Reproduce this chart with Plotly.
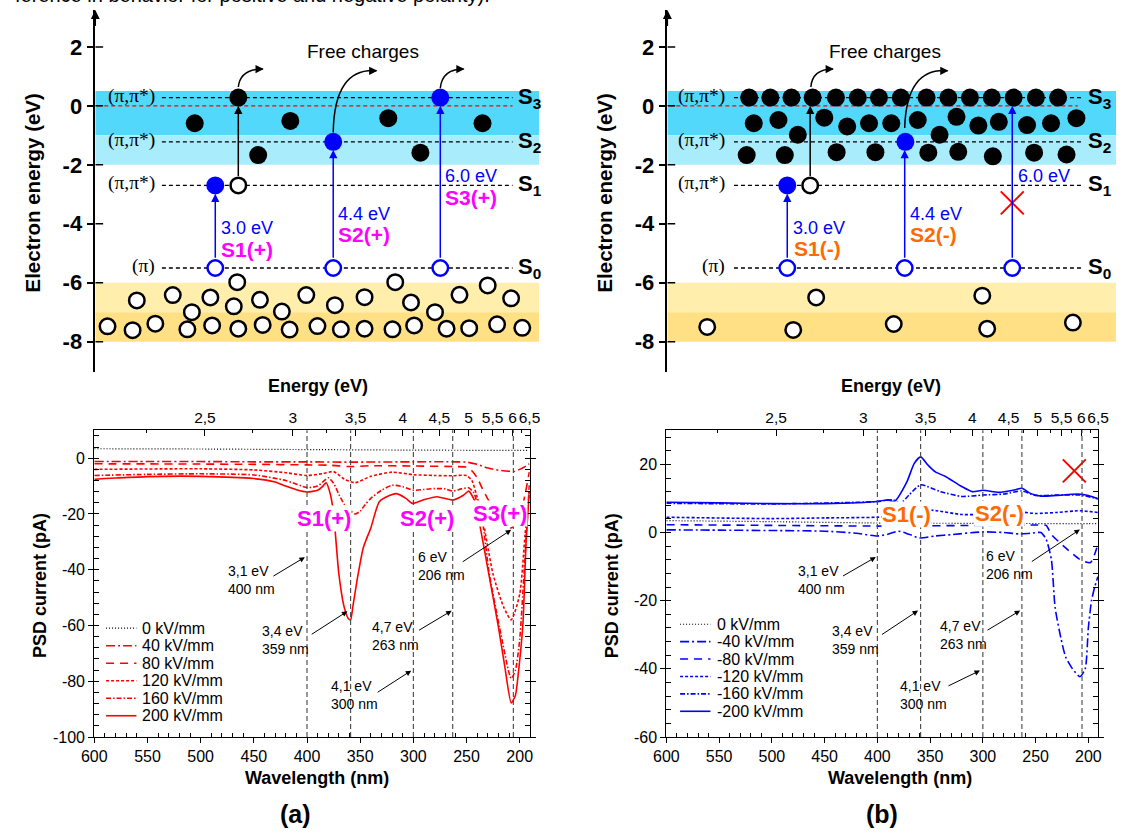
import plotly.graph_objects as go

W, H = 1126, 839
FONT = "Liberation Sans, Arial, sans-serif"
SERIF = "Liberation Serif, Times New Roman, serif"

# ---------------- bottom panels: data ----------------
# (a) positive polarity
p0_x = [600, 500, 400, 300, 200, 191]
p0_y = [3.4, 3.3, 3.1, 2.9, 2.8, 2.8]
p40_x = [600, 550, 500, 450, 400, 360, 300, 260, 250, 240, 230, 220, 210, 206, 200, 195, 191]
p40_y = [-1.2, -1.2, -1.2, -1.3, -1.3, -1.4, -1.3, -1.3, -1.4, -2.2, -3.5, -4.3, -4.7, -4.8, -4.0, -3.0, -2.0]
p80_x = [600, 500, 450, 400, 380, 360, 340, 300, 260, 250, 245, 240, 235, 225, 215, 208, 200, 195, 191]
p80_y = [-2.0, -2.1, -2.2, -2.4, -2.5, -3.0, -2.7, -2.8, -3.0, -3.2, -4.5, -7, -11, -18, -23, -25, -21, -13, -5]
p120_x = [600, 500, 450, 420, 400, 385, 375, 365, 355, 340, 320, 300, 280, 263, 250, 245, 240, 235, 225, 215, 208, 200, 195, 191]
p120_y = [-4.0, -3.8, -4.2, -5.2, -6.2, -5.5, -4.8, -7.5, -8.8, -6.5, -5.0, -5.9, -6.2, -6.3, -6.2, -8, -14, -21.5, -41.7, -53.5, -58, -48.8, -27.5, -12]
p160_x = [600, 550, 500, 450, 420, 400, 390, 380, 375, 370, 365, 360, 355, 350, 345, 340, 330, 320, 310, 300, 290, 280, 270, 263, 255, 248, 243, 240, 235, 229, 219, 208, 204, 200, 196, 191]
p160_y = [-6.2, -5.8, -5.6, -6.0, -8.0, -10.5, -10.0, -7.0, -9.0, -13, -16.5, -18.5, -20, -19, -16.5, -14.4, -11.5, -9.7, -10.2, -11.5, -11.2, -10.9, -11.0, -11.8, -11.0, -10.6, -12.5, -16, -22.7, -40.5, -60.6, -79, -76, -65, -41.7, -9.7]
p200_x = [600, 590, 580, 550, 500, 450, 430, 420, 410, 400, 390, 385, 382, 378, 375, 370, 365, 361, 359, 357, 352, 347, 340, 332, 322, 316, 307, 301, 291, 278, 263, 253, 248, 242, 237, 229, 220, 214, 208, 204, 202, 197, 194, 191]
p200_y = [-7.6, -7.3, -7.1, -6.6, -6.5, -7.3, -8.5, -10.0, -11.3, -12.1, -11.5, -10.0, -8.8, -13, -20, -41.7, -53.5, -57.6, -58, -53.5, -41.7, -32, -25, -15.6, -13.3, -12.7, -14.4, -16.2, -15, -13.8, -15, -13.3, -11.8, -15.6, -25, -41.7, -60.6, -74.8, -87.8, -85, -79.5, -59.4, -29.8, -12]

# (b) negative polarity
n0_x = [600, 500, 400, 300, 200, 191]
n0_y = [3.5, 3.2, 2.8, 2.7, 2.6, 2.6]
n40_x = [600, 550, 500, 450, 420, 400, 390, 380, 370, 360, 345, 330, 300, 280, 265, 255, 245, 240, 235, 231.5, 226, 221.5, 215, 208, 203, 200, 197, 194, 191]
n40_y = [0.8, 0.7, 0.6, 0.4, -0.2, -1.0, -0.5, 0.4, -0.5, -1.6, -1.0, -0.6, 0.2, 0.0, -0.4, -0.2, 0.0, -2.0, -8.0, -22, -31, -36.5, -40, -42.3, -40, -28, -20, -16, -13]
n80_x = [600, 500, 400, 300, 250, 240, 235, 221.5, 208, 198, 191]
n80_y = [2.3, 2.1, 1.9, 2.1, 2.2, 2.1, -0.6, -4.5, -7.9, -8.8, -3.5]
n120_x = [600, 500, 450, 400, 380, 360, 344, 320, 300, 280, 263, 250, 230, 208, 191]
n120_y = [4.5, 4.1, 4.3, 4.5, 5.0, 6.8, 6.4, 5.3, 5.3, 5.6, 6.0, 5.6, 5.9, 6.4, 5.9]
n160_x = [600, 500, 400, 385, 378, 370, 359, 340, 320, 300, 280, 263, 250, 230, 208, 191]
n160_y = [8.6, 8.4, 9.1, 9.6, 8.6, 11, 14, 12, 10.6, 11, 11.3, 12.2, 10.9, 11, 11, 9.9]
n200_x = [600, 550, 500, 450, 400, 390, 384, 372, 365, 359, 352, 345, 335, 320, 310, 300, 285, 270, 263, 255, 245, 230, 210, 200, 191]
n200_y = [8.9, 8.7, 8.5, 8.5, 9.1, 9.6, 9.1, 14.9, 20.3, 22.2, 19.8, 17.8, 16.4, 13.5, 12, 12.4, 11.8, 12.5, 13, 11.5, 10.7, 10.9, 11.3, 10.9, 9.9]

pos_names = ["0 kV/mm", "40 kV/mm", "80 kV/mm", "120 kV/mm", "160 kV/mm", "200 kV/mm"]
neg_names = ["0 kV/mm", "-40 kV/mm", "-80 kV/mm", "-120 kV/mm", "-160 kV/mm", "-200 kV/mm"]
dash_styles = ["1px,2px", "9px,3px,2px,3px", "8px,6px", "3px,2px", "5px,2px,1.5px,2px", "solid"]

wl_ticks = [600, 550, 500, 450, 400, 350, 300, 250, 200]
energy_ticks = [2.5, 3, 3.5, 4, 4.5, 5, 5.5, 6, 6.5]
energy_labels = ["2,5", "3", "3,5", "4", "4,5", "5", "5,5", "6", "6,5"]
energy_minor = [2.25, 2.75, 3.25, 3.75, 4.25, 4.75, 5.25, 5.75, 6.25]
ya_ticks = [-100, -80, -60, -40, -20, 0]
yb_ticks = [-60, -40, -20, 0, 20]
marker_lines_nm = [400, 359, 300, 263, 206]

# annotation notes: (text, text x, text y, tail x, tail y, head x, head y)
notes_a = [("3,1 eV<br>400 nm", 452, -43.8, 433, -42.6, 402, -35.5),
           ("3,4 eV<br>359 nm", 420, -65.3, 397, -63.5, 362, -54.9),
           ("4,1 eV<br>300 nm", 355, -84.9, 335, -84.3, 302, -76.2),
           ("4,7 eV<br>263 nm", 317, -63.6, 296, -62, 264, -54.7),
           ("6 eV<br>206 nm", 274, -38.7, 255, -37.5, 208, -25.7)]
notes_b = [("3,1 eV<br>400 nm", 453, -14, 434, -13, 401.5, -7.2),
           ("3,4 eV<br>359 nm", 421, -31.6, 397, -30.2, 361.4, -22.9),
           ("4,1 eV<br>300 nm", 356, -47.6, 334, -45.2, 302.7, -40.5),
           ("4,7 eV<br>263 nm", 318, -30, 297, -28.9, 264.6, -22.9),
           ("6 eV<br>206 nm", 275, -9.6, 255, -8.8, 208, 0.9)]
peaks_a = [("S1(+)", 383.6, -21.5), ("S2(+)", 286.8, -21.8), ("S3(+)", 218.1, -19.8)]
peaks_b = [("S1(-)", 372.3, 5.2), ("S2(-)", 284.5, 5.7)]

# ---------------- top panels: schematic data ----------------
level_ev = [0.28, -1.22, -2.7, -5.5]
level_sub = ["3", "2", "1", "0"]
level_state = ["(π,π*)", "(π,π*)", "(π,π*)", "(π)"]
band_top = [0.5, -1, -6, -7]
band_bot = [-1, -2, -7, -8]
band_col = ["#52D8FA", "#A9ECFC", "#FFEEAC", "#FFE085"]
diag_ticks = [-8, -6, -4, -2, 0, 2]

# left diagram (positions in px-like units along the panel)
La_fill_x = [230, 185.5, 283.1, 383.1, 479.3, 250.3, 415.9]
La_fill_y = [0.28, -0.59, -0.51, -0.42, -0.59, -1.67, -1.59]
La_blue_x = [206.5, 326.9, 436.2]
La_blue_y = [-2.7, -1.22, 0.28]
La_hole_x = [230]
La_hole_y = [-2.7]
La_s0_x = [206.5, 326.9, 436.2]
La_val_x = [96.5, 122.1, 145.3, 178.0, 203.3, 230.0, 254.9, 282.4, 310.8, 334.7, 358.9, 387.4, 409.5, 442.6, 465.7, 494.2, 519.9,
            126.4, 163.1, 182.6, 201.5, 225.4, 228.9, 252.1, 274.5, 299.4, 328.6, 358.9, 390.2, 406.3, 430.8, 455.8, 484.6, 508.5]
La_val_y = [-7.48, -7.61, -7.39, -7.58, -7.45, -7.56, -7.43, -7.59, -7.47, -7.58, -7.56, -7.58, -7.45, -7.56, -7.54, -7.41, -7.53,
            -6.6, -6.42, -7.0, -6.5, -6.8, -5.98, -6.58, -6.98, -6.42, -6.76, -6.49, -5.98, -6.67, -7.0, -6.41, -6.09, -6.53]
La_arrows = [(206.5, -5.2, -2.98, "blue"), (326.9, -5.2, -1.5, "blue"), (436.2, -5.2, 0.0, "blue"), (230, -2.43, 0.0, "black")]
La_curves = [(230, 0.64, 232, 1.25, 255, 1.25), (326.9, -0.9, 328, 1.3, 371, 1.19), (436.2, 0.6, 438, 1.25, 460, 1.25)]

# right diagram
Lb_fill_x = [751.5, 773.1, 794.7, 816.3, 840.1, 862.4, 884, 906.3, 932.6, 954.9, 976.9, 999.2, 1021.5, 1044.2, 1066.9,
             756.2, 781.4, 801.2, 828.2, 851.6, 873.9, 896.6, 923.6, 945.9, 963.2, 985.5, 1006.4, 1035.2, 1059.7, 1085.6,
             749, 787.9, 840.8, 880.4, 934.4, 965, 1000.3, 1042.4, 1075.5]
Lb_fill_y = [0.28] * 15 + [-0.59, -0.48, -0.98, -0.40, -0.70, -0.59, -0.59, -0.48, -0.98, -0.37, -0.67, -0.54, -0.65, -0.59, -0.42] + \
            [-1.67, -1.67, -1.57, -1.57, -1.59, -1.56, -1.71, -1.59, -1.65]
Lb_blue_x = [790.4, 911]
Lb_blue_y = [-2.7, -1.22]
Lb_hole_x = [813.8]
Lb_hole_y = [-2.7]
Lb_s0_x = [790.4, 910.3, 1020.1]
Lb_val_x = [708.7, 796.5, 819.9, 899.1, 989.5, 994.5, 1082]
Lb_val_y = [-7.5, -7.6, -6.5, -7.4, -6.44, -7.56, -7.35]
Lb_arrows = [(790.4, -5.2, -2.98, "blue"), (910.3, -5.2, -1.5, "blue"), (1020.1, -5.2, 0.0, "blue"), (813.8, -2.43, 0.0, "black")]
Lb_curves = [(814.5, 0.64, 816, 1.25, 837, 1.25), (910.3, -0.75, 912, 1.3, 954, 1.19)]

# ---------------- geometry helpers ----------------
def px(x):
    return x / W

def py(y):
    return (H - y) / H

EV0_PX, EV_SCALE = 107.0, 29.8
top_y_range = [(EV0_PX - 376) / EV_SCALE, (EV0_PX - 10) / EV_SCALE]
top_y_dom = [py(376), py(10)]

fig = go.Figure()
shapes = []
ann = []

# ---------------- top diagrams ----------------
panels = [
    dict(xa="x", ya="y", x0=84, x1=560, band_x1=537, lvl_x0=152, lvl_x1=510, state_x=147, s_x=513, red_x1=510,
         fill=(La_fill_x, La_fill_y), blue=(La_blue_x, La_blue_y), hole=(La_hole_x, La_hole_y), s0=La_s0_x,
         val=(La_val_x, La_val_y), arrows=La_arrows, curves=La_curves, free=357,
         texts=[("3.0 eV", 210, -4.16, "blue", False), ("S1(+)", 210, -4.88, "#FF00FF", True),
                ("4.4 eV", 330, -3.66, "blue", False), ("S2(+)", 330, -4.35, "#FF00FF", True),
                ("6.0 eV", 439, -2.37, "blue", False), ("S3(+)", 439, -3.12, "#FF00FF", True)]),
    dict(xa="x2", ya="y2", x0=668, x1=1126, band_x1=1126, lvl_x0=736, lvl_x1=1091, state_x=729, s_x=1095, red_x1=1087,
         fill=(Lb_fill_x, Lb_fill_y), blue=(Lb_blue_x, Lb_blue_y), hole=(Lb_hole_x, Lb_hole_y), s0=Lb_s0_x,
         val=(Lb_val_x, Lb_val_y), arrows=Lb_arrows, curves=Lb_curves, free=890,
         texts=[("3.0 eV", 794, -4.16, "blue", False), ("S1(-)", 795, -4.83, "#FF6A00", True),
                ("4.4 eV", 914, -3.66, "blue", False), ("S2(-)", 914, -4.35, "#FF6A00", True),
                ("6.0 eV", 1024, -2.37, "blue", False)]),
]

for P in panels:
    xa, ya = P["xa"], P["ya"]
    for t, b, c in zip(band_top, band_bot, band_col):
        shapes.append(dict(type="rect", xref=xa, yref=ya, x0=P["x0"], x1=P["band_x1"], y0=b, y1=t,
                           fillcolor=c, line=dict(width=0), layer="below"))
    shapes.append(dict(type="line", xref=xa, yref=ya, x0=P["x0"] + 2, x1=P["red_x1"], y0=0, y1=0,
                       line=dict(color="red", width=1.2, dash="4px,3px"), layer="below"))
    for ev, sub, st in zip(level_ev, level_sub, level_state):
        shapes.append(dict(type="line", xref=xa, yref=ya, x0=P["lvl_x0"], x1=P["lvl_x1"], y0=ev, y1=ev,
                           line=dict(color="black", width=1.3, dash="4px,3px"), layer="below"))
        ann.append(dict(xref=xa, yref=ya, x=P["state_x"], y=ev + 0.07, text=st, showarrow=False, xanchor="right",
                        yanchor="middle", font=dict(family=SERIF, size=19.5, color="black")))
        ann.append(dict(xref=xa, yref=ya, x=P["s_x"], y=ev, text="<b>S<sub>%s</sub></b>" % sub, showarrow=False,
                        xanchor="left", yanchor="middle", font=dict(family=FONT, size=22, color="black")))
    for t in diag_ticks:
        shapes.append(dict(type="line", xref=xa, yref=ya, x0=P["x0"], x1=P["x0"] + 8, y0=t, y1=t,
                           line=dict(color="black", width=1.5)))
    ann.append(dict(xref=xa, yref=ya, axref=xa, ayref=ya, x=P["x0"], y=top_y_range[1], ax=P["x0"], ay=top_y_range[1] - 0.6,
                    text="", showarrow=True, arrowhead=2, arrowsize=1.2, arrowwidth=1.5, arrowcolor="black"))
    for x, y0, y1, col in P["arrows"]:
        ann.append(dict(xref=xa, yref=ya, axref=xa, ayref=ya, x=x, y=y1, ax=x, ay=y0, text="", showarrow=True,
                        arrowhead=2, arrowsize=1.1, arrowwidth=1.5, arrowcolor=col))
    for x0, y0, cx, cy, x1, y1 in P["curves"]:
        shapes.append(dict(type="path", xref=xa, yref=ya, path=f"M {x0},{y0} Q {cx},{cy} {x1},{y1}",
                           line=dict(color="black", width=1.5)))
        ann.append(dict(xref=xa, yref=ya, axref=xa, ayref=ya, x=x1 + 1, y=y1, ax=x1 - 4, ay=y1, text="", showarrow=True,
                        arrowhead=2, arrowsize=1.1, arrowwidth=1.5, arrowcolor="black"))
    ann.append(dict(xref=xa, yref=ya, x=P["free"], y=1.85, text="Free charges", showarrow=False,
                    font=dict(family=FONT, size=19, color="black")))
    for txt, x, y, col, bold in P["texts"]:
        ann.append(dict(xref=xa, yref=ya, x=x, y=y, text=("<b>%s</b>" % txt) if bold else txt, showarrow=False,
                        xanchor="left", yanchor="middle",
                        font=dict(family=FONT, size=21 if bold else 18, color=col)))
    fig.add_trace(go.Scatter(x=P["fill"][0], y=P["fill"][1], mode="markers", xaxis=xa, yaxis=ya, showlegend=False,
                             marker=dict(size=18, color="black", line=dict(width=0))))
    fig.add_trace(go.Scatter(x=P["blue"][0], y=P["blue"][1], mode="markers", xaxis=xa, yaxis=ya, showlegend=False,
                             marker=dict(size=18, color="#0000FF", line=dict(width=0))))
    fig.add_trace(go.Scatter(x=P["hole"][0], y=P["hole"][1], mode="markers", xaxis=xa, yaxis=ya, showlegend=False,
                             marker=dict(size=15.5, color="white", line=dict(width=2.5, color="black"))))
    fig.add_trace(go.Scatter(x=P["s0"], y=[-5.5] * len(P["s0"]), mode="markers", xaxis=xa, yaxis=ya, showlegend=False,
                             marker=dict(size=15.5, color="white", line=dict(width=2.5, color="#0000FF"))))
    fig.add_trace(go.Scatter(x=P["val"][0], y=P["val"][1], mode="markers", xaxis=xa, yaxis=ya, showlegend=False,
                             marker=dict(size=15.5, color="white", line=dict(width=2.5, color="black"))))

fig.add_trace(go.Scatter(x=[1020.1], y=[-3.29], mode="markers", xaxis="x2", yaxis="y2", showlegend=False,
                         marker=dict(symbol="x-thin", size=23, line=dict(width=2, color="red"))))

diag_y = dict(domain=top_y_dom, range=top_y_range, showline=True, linecolor="black", linewidth=1.5,
              ticks="outside", ticklen=7, tickwidth=1.5, tickcolor="black", tickvals=diag_ticks,
              ticktext=["<b>%d</b>" % t for t in diag_ticks], tickfont=dict(family=FONT, size=22, color="black"),
              showgrid=False, zeroline=False)

# ---------------- bottom plots ----------------
red_series = [(p0_x, p0_y), (p40_x, p40_y), (p80_x, p80_y), (p120_x, p120_y), (p160_x, p160_y), (p200_x, p200_y)]
blue_series = [(n0_x, n0_y), (n40_x, n40_y), (n80_x, n80_y), (n120_x, n120_y), (n160_x, n160_y), (n200_x, n200_y)]

def series_color(i, base):
    return "black" if i == 0 else base

def series_width(i):
    return 1.2 if i == 0 else 1.6

for i, ((x, y), nm, ds) in enumerate(zip(red_series, pos_names, dash_styles)):
    fig.add_trace(go.Scatter(x=x, y=y, mode="lines", name=nm, xaxis="x3", yaxis="y3", showlegend=False,
                             line=dict(color=series_color(i, "#FF0000"), width=series_width(i),
                                       dash=ds, shape="spline", smoothing=0.6)))
for i, ((x, y), nm, ds) in enumerate(zip(blue_series, neg_names, dash_styles)):
    fig.add_trace(go.Scatter(x=x, y=y, mode="lines", name=nm, xaxis="x4", yaxis="y4", showlegend=False,
                             line=dict(color=series_color(i, "#0000FF"), width=series_width(i),
                                       dash=ds, shape="spline", smoothing=0.6)))

# legends drawn as key samples + labels (spacing as in the reference)
legend_specs = [(pos_names, "#FF0000", 95, 126, 130, 635, 17.7), (neg_names, "#0000FF", 681, 712, 717, 631, 17.6)]
for names, base, lx0, lx1, tx, y0, dy in legend_specs:
    for i, (nm, ds) in enumerate(zip(names, dash_styles)):
        yy = y0 + dy * i
        shapes.append(dict(type="line", xref="paper", yref="paper", x0=px(lx0), x1=px(lx1), y0=py(yy), y1=py(yy),
                           line=dict(color=series_color(i, base), width=series_width(i), dash=ds)))
        ann.append(dict(xref="paper", yref="paper", x=px(tx), y=py(yy), text=nm, showarrow=False, xanchor="left",
                        yanchor="middle", font=dict(family=FONT, size=16, color="black")))

fig.add_trace(go.Scatter(x=[213.3], y=[18.1], mode="markers", xaxis="x4", yaxis="y4", showlegend=False,
                         marker=dict(symbol="x-thin", size=23, line=dict(width=2, color="red"))))
fig.add_trace(go.Scatter(x=[600], y=[0], mode="markers", xaxis="x5", yaxis="y3", showlegend=False,
                         marker=dict(opacity=0), hoverinfo="skip"))
fig.add_trace(go.Scatter(x=[600], y=[0], mode="markers", xaxis="x6", yaxis="y4", showlegend=False,
                         marker=dict(opacity=0), hoverinfo="skip"))

for xa, ya in [("x3", "y3"), ("x4", "y4")]:
    for v in marker_lines_nm:
        shapes.append(dict(type="line", xref=xa, yref=ya + " domain", x0=v, x1=v, y0=0, y1=1,
                           line=dict(color="#444444", width=1.1, dash="5px,3px")))

for notes, xa, ya in [(notes_a, "x3", "y3"), (notes_b, "x4", "y4")]:
    for txt, tx, ty, ax, ay, hx, hy in notes:
        ann.append(dict(xref=xa, yref=ya, x=tx, y=ty, text=txt, showarrow=False, align="left",
                        font=dict(family=FONT, size=14, color="black")))
        ann.append(dict(xref=xa, yref=ya, axref=xa, ayref=ya, x=hx, y=hy, ax=ax, ay=ay, text="", showarrow=True,
                        arrowhead=2, arrowsize=1.1, arrowwidth=1, arrowcolor="black"))
for txt, x, y in peaks_a:
    ann.append(dict(xref="x3", yref="y3", x=x, y=y, text="<b>%s</b>" % txt, showarrow=False, bgcolor="white",
                    borderpad=0, font=dict(family=FONT, size=22, color="#FF00FF")))
for txt, x, y in peaks_b:
    ann.append(dict(xref="x4", yref="y4", x=x, y=y, text="<b>%s</b>" % txt, showarrow=False, bgcolor="white",
                    borderpad=0, font=dict(family=FONT, size=22, color="#FF6A00")))

bot_dom = [py(745), py(435)]
WL_RANGE = [600, 190.5]

def wl_axis(dom, anchor):
    return dict(domain=dom, anchor=anchor, range=WL_RANGE, showline=True, linecolor="black", linewidth=1.2,
                ticks="outside", ticklen=5, tickcolor="black", tickvals=wl_ticks, ticktext=[str(t) for t in wl_ticks],
                tickfont=dict(family=FONT, size=16, color="black"), tickangle=0,
                minor=dict(tickvals=[v for v in range(590, 190, -10) if v % 50], ticks="inside", ticklen=4,
                           tickcolor="black"),
                showgrid=False, zeroline=False)

def en_axis(over, anchor):
    return dict(overlaying=over, anchor=anchor, side="top", range=WL_RANGE, showline=True, linecolor="black",
                linewidth=1.2, ticks="inside", ticklen=6, tickcolor="black", tickangle=0,
                tickvals=[1240.0 / e for e in energy_ticks], ticktext=energy_labels,
                tickfont=dict(family=FONT, size=15.5, color="black"),
                minor=dict(tickvals=[1240.0 / e for e in energy_minor], ticks="inside", ticklen=3, tickcolor="black"),
                showgrid=False, zeroline=False)

def psd_axis(dom, anchor, rng, ticks):
    return dict(domain=dom, anchor=anchor, range=rng, showline=True, linecolor="black", linewidth=1.2,
                mirror="allticks", ticks="outside", ticklen=5, tickcolor="black", tickvals=ticks,
                ticktext=[str(t) for t in ticks], tickfont=dict(family=FONT, size=16, color="black"),
                minor=dict(dtick=4, tick0=0, ticks="inside", ticklen=3, tickcolor="black"),
                showgrid=False, zeroline=False)

titles = [
    ("<b>Electron energy (eV)</b>", 20, 195, -90, 20.5),
    ("<b>Electron energy (eV)</b>", 604, 195, -90, 20.5),
    ("<b>PSD current (pA)</b>", 27, 592, -90, 18),
    ("<b>PSD current (pA)</b>", 611, 592, -90, 18),
    ("<b>Energy (eV)</b>", 311, 390, 0, 18),
    ("<b>Energy (eV)</b>", 896, 390, 0, 18),
    ("<b>Wavelength (nm)</b>", 310, 786, 0, 18),
    ("<b>Wavelength (nm)</b>", 905, 786, 0, 18),
    ("<b>(a)</b>", 288, 823, 0, 25),
    ("<b>(b)</b>", 887, 823, 0, 25),
]
for txt, x, y, ang, sz in titles:
    ann.append(dict(xref="paper", yref="paper", x=px(x), y=py(y), text=txt, showarrow=False, textangle=ang,
                    xanchor="center", yanchor="middle", font=dict(family=FONT, size=sz, color="black")))
ann.append(dict(xref="paper", yref="paper", x=0, y=py(-5), text="ference in behavior for positive and negative polarity).",
                showarrow=False, xanchor="left", yanchor="middle", font=dict(family=FONT, size=20, color="black")))

fig.update_layout(
    width=W, height=H, margin=dict(l=0, r=0, t=0, b=0), paper_bgcolor="white", plot_bgcolor="rgba(0,0,0,0)",
    font=dict(family=FONT, color="black"), showlegend=False,
    xaxis=dict(domain=[px(84), px(560)], range=[84, 560], visible=False, anchor="y"),
    yaxis=dict(anchor="x", **diag_y),
    xaxis2=dict(domain=[px(668), 1.0], range=[668, 1126], visible=False, anchor="y2"),
    yaxis2=dict(anchor="x2", **diag_y),
    xaxis3=wl_axis([px(83), px(527.6)], "y3"),
    yaxis3=psd_axis(bot_dom, "x3", [-100, 10], ya_ticks),
    xaxis4=wl_axis([px(667), px(1108)], "y4"),
    yaxis4=psd_axis(bot_dom, "x4", [-60, 30], yb_ticks),
    xaxis5=en_axis("x3", "y3"),
    xaxis6=en_axis("x4", "y4"),
    shapes=shapes, annotations=ann,
)

fig.write_html("out.html")
